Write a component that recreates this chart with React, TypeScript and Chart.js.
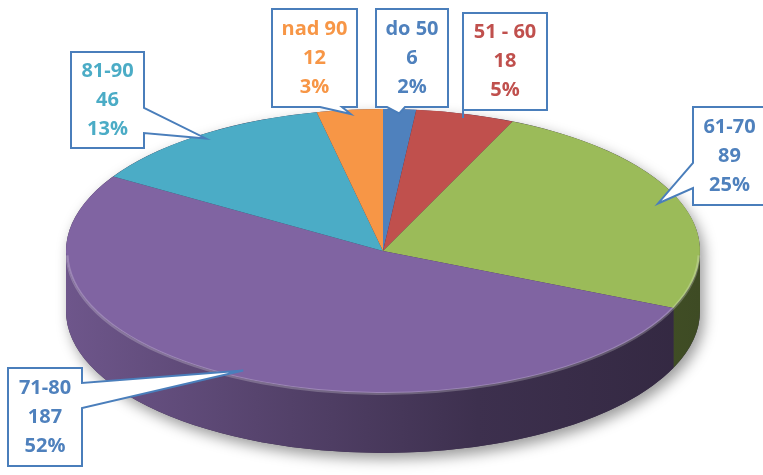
import React, { useEffect, useRef } from 'react';
import { Chart, registerables } from 'chart.js';

Chart.register(...registerables);

// ---- data ----
const categories = ['do 50', '51 - 60', '61-70', '71-80', '81-90', 'nad 90'];
const counts = [6, 18, 89, 187, 46, 12];
const percentLabels = ['2%', '5%', '25%', '52%', '13%', '3%'];

// ---- styles ----
const sliceColors = ['#4F81BD', '#C0504D', '#9BBB59', '#8064A2', '#4BACC6', '#F79646'];
const labelColors = ['#4F81BD', '#C0504D', '#4F81BD', '#4F81BD', '#4BACC6', '#F79646'];

// ---- layout (label callouts) ----
type Side = 'bottom' | 'left' | 'right';
const calloutBoxes: { x: number; y: number; w: number; h: number; side: Side; b0: number; b1: number }[] = [
  { x: 376, y: 9, w: 72, h: 98, side: 'bottom', b0: 387, b1: 405 },
  { x: 463, y: 13, w: 84, h: 97, side: 'left', b0: 95, b1: 101 },
  { x: 693, y: 107, w: 73, h: 98, side: 'left', b0: 163, b1: 188 },
  { x: 8, y: 368, w: 74, h: 98, side: 'right', b0: 383, b1: 408 },
  { x: 71, y: 52, w: 73, h: 96, side: 'right', b0: 108, b1: 133 },
  { x: 272, y: 9, w: 85, h: 98, side: 'bottom', b0: 320, b1: 342 },
];
const tipFraction = [0.97, 0.97, 0.93, 0.95, 0.97, 0.97];

const PIE_R = 142; // library radius
const SCALE_X = 317 / 142; // horizontal squash factor for the tilted look
const SCALE_Y = 1;
const DEPTH = 60;

function shade(hex: string, f: number) {
  const n = parseInt(hex.slice(1), 16);
  const r = (n >> 16) & 255, g = (n >> 8) & 255, b = n & 255;
  return `rgb(${Math.round(r * f)},${Math.round(g * f)},${Math.round(b * f)})`;
}

const pie3d = {
  id: 'pie3d',
  beforeDatasetsDraw(chart: any) {
    const arcs = chart.getDatasetMeta(0).data as any[];
    if (!arcs.length) return;
    const { x: cx, y: cy, outerRadius: r } = arcs[0];
    const RX = r * SCALE_X, RY = r * SCALE_Y;
    const ctx: CanvasRenderingContext2D = chart.ctx;

    // silhouette with drop shadow
    ctx.save();
    ctx.shadowColor = 'rgba(0,0,0,0.4)';
    ctx.shadowBlur = 14;
    ctx.shadowOffsetX = 4;
    ctx.shadowOffsetY = 6;
    ctx.beginPath();
    ctx.ellipse(cx, cy, RX, RY, 0, Math.PI, 2 * Math.PI);
    ctx.lineTo(cx + RX, cy + DEPTH);
    ctx.ellipse(cx, cy + DEPTH, RX, RY, 0, 0, Math.PI);
    ctx.closePath();
    ctx.fillStyle = '#3a2e4a';
    ctx.fill();
    ctx.restore();

    // side walls (front half: canvas angles 0..PI)
    arcs.forEach((arc: any, i: number) => {
      const a = Math.max(arc.startAngle, 0);
      const b = Math.min(arc.endAngle, Math.PI);
      if (b <= a) return;
      const col = sliceColors[i];
      const g = ctx.createLinearGradient(cx - RX, 0, cx + RX, 0);
      g.addColorStop(0, shade(col, 0.86));
      g.addColorStop(0.3, shade(col, 0.68));
      g.addColorStop(0.65, shade(col, 0.48));
      g.addColorStop(1, shade(col, 0.4));
      ctx.save();
      ctx.beginPath();
      ctx.ellipse(cx, cy, RX, RY, 0, a, b);
      ctx.lineTo(cx + RX * Math.cos(b), cy + RY * Math.sin(b) + DEPTH);
      ctx.ellipse(cx, cy + DEPTH, RX, RY, 0, b, a, true);
      ctx.closePath();
      ctx.fillStyle = g;
      ctx.fill();
      ctx.restore();
    });

    // squash the top face drawn by the library
    ctx.save();
    ctx.translate(cx, cy);
    ctx.scale(SCALE_X, SCALE_Y);
    ctx.translate(-cx, -cy);
  },
  afterDatasetsDraw(chart: any) {
    const ctx: CanvasRenderingContext2D = chart.ctx;
    ctx.restore();
    const arcs = chart.getDatasetMeta(0).data as any[];
    if (!arcs.length) return;
    const { x: cx, y: cy, outerRadius: r } = arcs[0];
    const RX = r * SCALE_X, RY = r * SCALE_Y;
    // rim highlight
    ctx.save();
    ctx.beginPath();
    ctx.ellipse(cx, cy + 1.5, RX - 1, RY - 1, 0, 0.02, Math.PI - 0.02);
    ctx.strokeStyle = 'rgba(255,255,255,0.22)';
    ctx.lineWidth = 3;
    ctx.stroke();
    ctx.restore();
  },
  afterDraw(chart: any) {
    const arcs = chart.getDatasetMeta(0).data as any[];
    if (!arcs.length) return;
    const { x: cx, y: cy, outerRadius: r } = arcs[0];
    const RX = r * SCALE_X, RY = r * SCALE_Y;
    const ctx: CanvasRenderingContext2D = chart.ctx;
    arcs.forEach((arc: any, i: number) => {
      const box = calloutBoxes[i];
      const mid = (arc.startAngle + arc.endAngle) / 2;
      const tx = cx + RX * tipFraction[i] * Math.cos(mid);
      const ty = cy + RY * tipFraction[i] * Math.sin(mid);
      const { x, y, w, h, side, b0, b1 } = box;
      ctx.save();
      ctx.beginPath();
      if (side === 'bottom') {
        ctx.moveTo(x, y);
        ctx.lineTo(x + w, y);
        ctx.lineTo(x + w, y + h);
        ctx.lineTo(b1, y + h);
        ctx.lineTo(tx, ty);
        ctx.lineTo(b0, y + h);
        ctx.lineTo(x, y + h);
      } else if (side === 'left') {
        ctx.moveTo(x, y);
        ctx.lineTo(x + w, y);
        ctx.lineTo(x + w, y + h);
        ctx.lineTo(x, y + h);
        ctx.lineTo(x, b1);
        ctx.lineTo(tx, ty);
        ctx.lineTo(x, b0);
      } else {
        ctx.moveTo(x, y);
        ctx.lineTo(x + w, y);
        ctx.lineTo(x + w, b0);
        ctx.lineTo(tx, ty);
        ctx.lineTo(x + w, b1);
        ctx.lineTo(x + w, y + h);
        ctx.lineTo(x, y + h);
      }
      ctx.closePath();
      ctx.fillStyle = '#ffffff';
      ctx.fill();
      ctx.strokeStyle = '#4A7EBB';
      ctx.lineWidth = 2;
      ctx.lineJoin = 'miter';
      ctx.stroke();

      const lines = [categories[i], String(counts[i]), percentLabels[i]];
      ctx.fillStyle = labelColors[i];
      ctx.font = 'bold 20px "Open Sans", Lato, sans-serif';
      ctx.textAlign = 'center';
      ctx.textBaseline = 'middle';
      const mx = x + w / 2, my = y + h / 2;
      lines.forEach((t, k) => ctx.fillText(t, mx, my + (k - 1) * 29));
      ctx.restore();
    });
  },
};

export default function App() {
  const ref = useRef<HTMLCanvasElement | null>(null);
  useEffect(() => {
    if (!ref.current) return;
    const W = 763, H = 475, CX = 383, CY = 251;
    const chart = new Chart(ref.current, {
      type: 'pie',
      data: {
        labels: categories,
        datasets: [
          {
            data: counts,
            backgroundColor: sliceColors,
            borderWidth: 0,
            clip: false as any,
          },
        ],
      },
      options: {
        responsive: false,
        animation: false,
        events: [],
        layout: {
          padding: {
            left: CX - PIE_R,
            right: W - (CX + PIE_R),
            top: CY - PIE_R,
            bottom: H - (CY + PIE_R),
          },
        },
        plugins: { legend: { display: false }, tooltip: { enabled: false } },
      },
      plugins: [pie3d],
    });
    return () => chart.destroy();
  }, []);
  return (
    <div style={{ position: 'fixed', left: 0, top: 0, width: 763, height: 475, background: '#fff' }}>
      <canvas ref={ref} width={763} height={475} style={{ width: 763, height: 475, display: 'block' }} />
    </div>
  );
}
